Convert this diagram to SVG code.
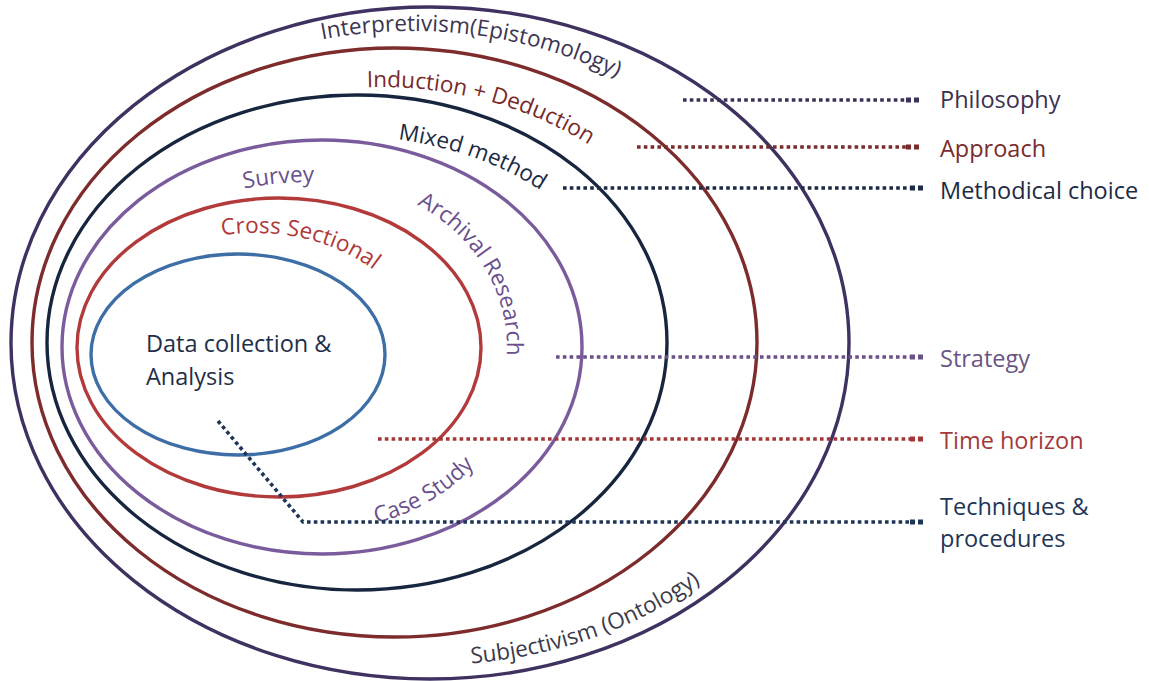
<svg xmlns="http://www.w3.org/2000/svg" width="1149" height="681" viewBox="0 0 1149 681">
  <style>
    .ring { fill: none; stroke-width: 3.4; }
    .lbl { font-family: "Open Sans", "Noto Sans", "Liberation Sans", sans-serif; }
    .arc { font-size: 22.5px; }
    .side { font-size: 23.5px; }
    .dot { fill: none; stroke-width: 3.6; stroke-dasharray: 3.6 3.2; }
    .tip { fill: none; stroke-width: 5; stroke-dasharray: 5 3; }
  </style>
  <defs>
    <!-- baselines for the curved ring labels -->
    <path id="pInterp" d="M322,39.4 A390,312 0 0 1 700,132.5"/>
    <path id="pSubj" d="M465.3,663.8 A405,322 0 0 0 810.6,453.1"/>
    <path id="pInduct" d="M367,87.2 A330,256 0 0 1 700,280"/>
    <path id="pMixed" d="M398,139.5 A290,207 0 0 1 620,277"/>
    <path id="pSurvey" d="M244,188.5 A240,168 0 0 1 400,194.3"/>
    <path id="pArchival" d="M417,204.6 A185,166 0 0 1 500,392"/>
    <path id="pCase" d="M356.7,527.2 A200,183 0 0 0 509.9,409.6"/>
    <path id="pCross" d="M222,235.4 A165,122 0 0 1 410,313"/>
  </defs>
  <rect width="1149" height="681" fill="#ffffff"/>

  <!-- research onion layers, outermost first -->
  <g id="philosophy-layer">
    <ellipse class="ring" cx="430" cy="343" rx="419" ry="336" stroke="#3f3160"/>
    <text class="lbl arc" fill="#3c3552"><textPath href="#pInterp">Interpretivism(Epistomology)</textPath></text>
    <text class="lbl arc" fill="#3a3a48"><textPath href="#pSubj" startOffset="6">Subjectivism (Ontology)</textPath></text>
  </g>
  <g id="approach-layer">
    <ellipse class="ring" cx="394.5" cy="342.5" rx="362.5" ry="294.5" stroke="#7d2b2b"/>
    <text class="lbl arc" fill="#7a2a2a"><textPath href="#pInduct">Induction + Deduction</textPath></text>
  </g>
  <g id="method-layer">
    <ellipse class="ring" cx="357" cy="342.5" rx="310" ry="247.5" stroke="#17253f"/>
    <text class="lbl arc" fill="#1c2a44"><textPath href="#pMixed">Mixed method</textPath></text>
  </g>
  <g id="strategy-layer">
    <ellipse class="ring" cx="322" cy="347" rx="260" ry="207" stroke="#7a5c9c"/>
    <text class="lbl arc" fill="#6a4f8c"><textPath href="#pSurvey">Survey</textPath></text>
    <text class="lbl arc" fill="#6a4f8c"><textPath href="#pArchival">Archival Research</textPath></text>
    <text class="lbl arc" fill="#6a4f8c"><textPath href="#pCase" startOffset="20">Case Study</textPath></text>
  </g>
  <g id="time-layer">
    <ellipse class="ring" cx="279" cy="347.5" rx="202" ry="149.5" stroke="#b23a3a"/>
    <text class="lbl arc" fill="#b03838"><textPath href="#pCross">Cross Sectional</textPath></text>
  </g>
  <g id="core-layer">
    <ellipse class="ring" cx="238" cy="354.5" rx="147" ry="100.5" stroke="#3d6ea6"/>
    <text class="lbl" font-size="23.5" fill="#1f2e48">
      <tspan x="146" y="352">Data collection &amp;</tspan>
      <tspan x="146" y="385">Analysis</tspan>
    </text>
  </g>

  <!-- dotted leader lines to the layer names -->
  <g id="connectors">
    <path class="dot" d="M683,100 H906" stroke="#3d3157"/>
    <path class="tip" d="M906,100 H921" stroke="#3d3157"/>
    <path class="dot" d="M637,147 H906" stroke="#7a2b2b"/>
    <path class="tip" d="M906,147 H921" stroke="#7a2b2b"/>
    <path class="dot" d="M563,188 H910" stroke="#1c2a45"/>
    <path class="tip" d="M910,188 H925" stroke="#1c2a45"/>
    <path class="dot" d="M556,357 H910" stroke="#6a5088"/>
    <path class="tip" d="M910,357 H925" stroke="#6a5088"/>
    <path class="dot" d="M378,439 H910" stroke="#a33636"/>
    <path class="tip" d="M910,439 H925" stroke="#a33636"/>
    <path class="dot" d="M218,421 L303,522 H910" stroke="#1f3557"/>
    <path class="tip" d="M910,522 H925" stroke="#1f3557"/>
  </g>

  <!-- layer names -->
  <g id="name-philosophy"><text class="lbl side" x="940" y="108" fill="#3b3152">Philosophy</text></g>
  <g id="name-approach"><text class="lbl side" x="940" y="157" fill="#7a2b2b">Approach</text></g>
  <g id="name-method"><text class="lbl side" x="940" y="199" fill="#1d2b45">Methodical choice</text></g>
  <g id="name-strategy"><text class="lbl side" x="940" y="367" fill="#6a5585">Strategy</text></g>
  <g id="name-time"><text class="lbl side" x="940" y="449" fill="#a33a3a">Time horizon</text></g>
  <g id="name-techniques">
    <text class="lbl side" fill="#1f3557">
      <tspan x="940" y="515">Techniques &amp;</tspan>
      <tspan x="940" y="547">procedures</tspan>
    </text>
  </g>
</svg>
